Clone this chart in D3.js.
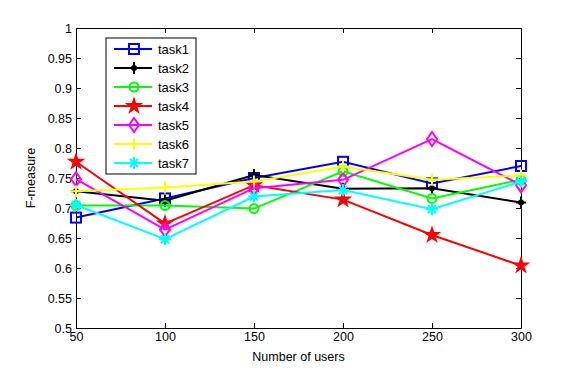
<!DOCTYPE html>
<html>
<head>
<meta charset="utf-8">
<script src="https://cdn.jsdelivr.net/npm/d3@7"></script>
<style>
  body { margin: 0; background: #fff; }
  text { font-family: "Liberation Sans", Arial, sans-serif; }
</style>
</head>
<body>
<div id="chart"></div>
<script>
var users = [50, 100, 150, 200, 250, 300];
var task1 = [0.684, 0.716, 0.750, 0.777, 0.741, 0.770];
var task2 = [0.728, 0.712, 0.755, 0.732, 0.733, 0.709];
var task3 = [0.704, 0.704, 0.699, 0.761, 0.716, 0.747];
var task4 = [0.777, 0.674, 0.738, 0.714, 0.655, 0.604];
var task5 = [0.748, 0.664, 0.733, 0.747, 0.815, 0.738];
var task6 = [0.728, 0.734, 0.744, 0.769, 0.747, 0.754];
var task7 = [0.705, 0.648, 0.719, 0.730, 0.698, 0.744];
var xTicks = [50, 100, 150, 200, 250, 300];
var yTicks = [0.5, 0.55, 0.6, 0.65, 0.7, 0.75, 0.8, 0.85, 0.9, 0.95, 1];

var series = [
  { name: "task1", values: task1, color: "#0000ff", marker: "square" },
  { name: "task2", values: task2, color: "#000000", marker: "dot" },
  { name: "task3", values: task3, color: "#00ff00", marker: "circle" },
  { name: "task4", values: task4, color: "#ff0000", marker: "star" },
  { name: "task5", values: task5, color: "#ff00ff", marker: "diamond" },
  { name: "task6", values: task6, color: "#ffff00", marker: "plus" },
  { name: "task7", values: task7, color: "#00ffff", marker: "asterisk" }
];

var svgWidth = 577;
var svgHeight = 370;
var margin = { top: 28, right: 56, bottom: 42, left: 76 };
var width = svgWidth - margin.left - margin.right;
var height = svgHeight - margin.top - margin.bottom;

var svg = d3.select("#chart")
  .append("svg")
  .attr("width", svgWidth)
  .attr("height", svgHeight);

var chartGroup = svg.append("g")
  .attr("transform", `translate(${margin.left}, ${margin.top})`);

var x = d3.scaleLinear().domain([50, 300]).range([0, width]);
var y = d3.scaleLinear().domain([0.5, 1]).range([height, 0]);

// axes with inward ticks, box all round
chartGroup.append("g")
  .attr("transform", `translate(0, ${height})`)
  .call(d3.axisBottom(x).tickValues(xTicks).tickSizeInner(-5).tickSizeOuter(0).tickPadding(4).tickFormat(d3.format("d")));
chartGroup.append("g")
  .call(d3.axisTop(x).tickValues(xTicks).tickSizeInner(-5).tickSizeOuter(0).tickFormat(""));
chartGroup.append("g")
  .call(d3.axisLeft(y).tickValues(yTicks).tickSizeInner(-5).tickSizeOuter(0).tickPadding(4).tickFormat(d => String(+d.toFixed(2))));
chartGroup.append("g")
  .attr("transform", `translate(${width}, 0)`)
  .call(d3.axisRight(y).tickValues(yTicks).tickSizeInner(-5).tickSizeOuter(0).tickFormat(""));

chartGroup.selectAll(".domain").attr("stroke", "#000");
chartGroup.selectAll(".tick line").attr("stroke", "#000");
chartGroup.selectAll(".tick text").attr("font-size", "12.5px").attr("fill", "#000")
  .attr("font-family", "Liberation Sans, Arial, sans-serif");

function drawMarker(g, type, color) {
  if (type === "square") {
    g.append("rect").attr("x", -5).attr("y", -5).attr("width", 10).attr("height", 10)
      .attr("fill", "none").attr("stroke", color).attr("stroke-width", 2);
  } else if (type === "circle") {
    g.append("circle").attr("r", 4.5).attr("fill", "none").attr("stroke", color).attr("stroke-width", 2);
  } else if (type === "diamond") {
    g.append("path").attr("d", "M0,-7L5,0L0,7L-5,0Z")
      .attr("fill", "none").attr("stroke", color).attr("stroke-width", 2);
  } else if (type === "star") {
    g.append("path").attr("d", d3.symbol().type(d3.symbolStar).size(60)())
      .attr("fill", color).attr("stroke", color).attr("stroke-width", 1.5);
  } else if (type === "plus") {
    g.append("path").attr("d", "M-6,0L6,0M0,-6L0,6")
      .attr("stroke", color).attr("stroke-width", 2);
  } else if (type === "asterisk") {
    g.append("path").attr("d", "M-6,0L6,0M0,-6L0,6M-4,-4L4,4M-4,4L4,-4")
      .attr("stroke", color).attr("stroke-width", 2);
  } else if (type === "dot") {
    g.append("path").attr("d", "M-5,0L5,0M0,-6L0,6")
      .attr("stroke", color).attr("stroke-width", 2);
    g.append("circle").attr("r", 3).attr("fill", color);
  }
}

var line = d3.line()
  .x((d, i) => x(users[i]))
  .y(d => y(d));

series.forEach(function(s) {
  chartGroup.append("path")
    .datum(s.values)
    .attr("fill", "none")
    .attr("stroke", s.color)
    .attr("stroke-width", 2)
    .attr("d", line);
  s.values.forEach(function(v, i) {
    var g = chartGroup.append("g").attr("transform", `translate(${x(users[i])}, ${y(v)})`);
    drawMarker(g, s.marker, s.color);
  });
});

// legend
var legend = svg.append("g").attr("transform", "translate(106, 38)");
legend.append("rect")
  .attr("width", 90).attr("height", 136)
  .attr("fill", "#fff").attr("stroke", "#000").attr("stroke-width", 1);
series.forEach(function(s, i) {
  var ly = 11 + i * 19;
  legend.append("line").attr("x1", 8).attr("x2", 46).attr("y1", ly).attr("y2", ly)
    .attr("stroke", s.color).attr("stroke-width", 2);
  var g = legend.append("g").attr("transform", `translate(28, ${ly})`);
  drawMarker(g, s.marker, s.color);
  legend.append("text").attr("x", 52).attr("y", ly + 4.5)
    .attr("font-size", "13px").text(s.name);
});

// axis labels
svg.append("text")
  .attr("x", margin.left + width / 2)
  .attr("y", 361)
  .attr("text-anchor", "middle")
  .attr("font-size", "12.5px")
  .text("Number of users");

svg.append("text")
  .attr("transform", `translate(35, ${margin.top + height / 2}) rotate(-90)`)
  .attr("text-anchor", "middle")
  .attr("font-size", "12.5px")
  .text("F-measure");
</script>
</body>
</html>
